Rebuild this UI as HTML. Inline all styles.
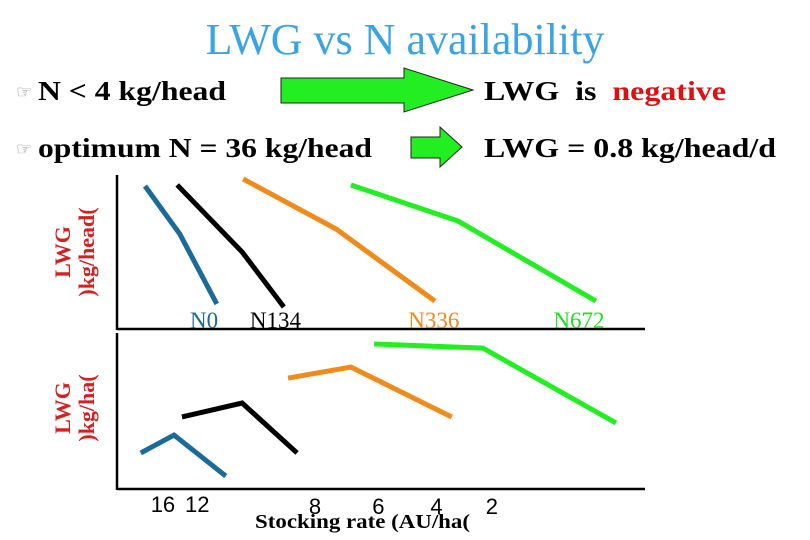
<!DOCTYPE html>
<html><head><meta charset="utf-8"><style>
body{margin:0;background:#fff}
svg{display:block}
.serif{font-family:"Liberation Serif",serif}
.sans{font-family:"Liberation Sans",sans-serif}
</style></head><body>
<svg id="chart" width="810" height="540" viewBox="0 0 810 540">
<text class="serif" x="405" y="54" text-anchor="middle" font-size="44" fill="#3aa3e3">LWG vs N availability</text>
<g class="serif">
<text x="16" y="98" font-size="18" fill="#888">☞</text>
<text x="38" y="100" font-size="27" font-weight="bold" fill="#000" textLength="188" lengthAdjust="spacingAndGlyphs">N &lt; 4 kg/head</text>
<polygon points="281,78 404,78 404,68 473,90 404,112 404,103 281,103" fill="#22ee22" stroke="#222" stroke-width="1"/>
<text x="484" y="100" font-size="27" font-weight="bold" fill="#000" textLength="242" lengthAdjust="spacingAndGlyphs">LWG&#160; is&#160; <tspan fill="#e01010">negative</tspan></text>
</g>
<g class="serif">
<text x="16" y="155" font-size="18" fill="#888">☞</text>
<text x="38" y="157" font-size="27" font-weight="bold" fill="#000" textLength="334" lengthAdjust="spacingAndGlyphs">optimum N = 36 kg/head</text>
<polygon points="411,137 440,137 440,127 462,147 440,167 440,158 411,158" fill="#22ee22" stroke="#222" stroke-width="1"/>
<text x="484" y="157" font-size="27" font-weight="bold" fill="#000" textLength="292" lengthAdjust="spacingAndGlyphs">LWG = 0.8 kg/head/d</text>
</g>
<g stroke="#000" stroke-width="2.5">
<line x1="117" y1="175" x2="117" y2="330"/>
<line x1="117" y1="329" x2="645" y2="329"/>
<line x1="117" y1="333" x2="117" y2="490"/>
<line x1="117" y1="489" x2="645" y2="489"/>
</g>
<g class="serif" font-size="22" font-weight="bold" fill="#d42020">
<text transform="translate(70,252) rotate(-90)" text-anchor="middle">LWG</text>
<text transform="translate(94,252) rotate(-90)" text-anchor="middle">)kg/head(</text>
<text transform="translate(70,408) rotate(-90)" text-anchor="middle">LWG</text>
<text transform="translate(94,408) rotate(-90)" text-anchor="middle">)kg/ha(</text>
</g>
<g id="ticks" class="sans" font-size="22" fill="#000"></g>
<text class="serif" x="255" y="528" font-size="20" font-weight="bold" fill="#000" textLength="215" lengthAdjust="spacingAndGlyphs">Stocking rate (AU/ha(</text>
<g id="series" class="serif"></g>
</svg>
<script>
const seriesNames = ["N0", "N134", "N336", "N672"];
const seriesColors = ["#1a6a9a", "#000000", "#f08a1a", "#22ee22"];
const headX = [[5.3, 11.9, 18.9], [11.4, 23.7, 31.6], [23.9, 41.5, 60.2], [44.3, 64.6, 90.7]];
const headY = [[92.8, 61.4, 15.7], [93.5, 49.7, 13.7], [97.4, 64.7, 17.6], [93.5, 69.9, 17.6]];
const haX = [[4.5, 10.8, 20.6], [12.3, 23.7, 34.1], [32.4, 44.3, 63.4], [48.7, 69.3, 94.5]];
const haY = [[23.6, 35.0, 8.9], [46.5, 55.4, 23.6], [71.3, 78.3, 46.5], [93.0, 90.4, 42.7]];
const labelX = [16.5, 30, 60, 87.5];
const tickLabels = ["16", "12", "8", "6", "4", "2"];
const tickX = [8.7, 15.2, 37.5, 49.5, 60.5, 71];

const NS = "http://www.w3.org/2000/svg";
const xs = v => 117 + v * 5.28;
const yTop = v => 328 - v * 1.53;
const yBot = v => 490 - v * 1.57;
const g = document.getElementById("series");
function line(xArr, yArr, ys, color, name) {
  const p = document.createElementNS(NS, "polyline");
  p.setAttribute("points", xArr.map((x, i) => xs(x) + "," + ys(yArr[i])).join(" "));
  p.setAttribute("fill", "none");
  p.setAttribute("stroke", color);
  p.setAttribute("stroke-width", "5");
  
  
  g.appendChild(p);
}
seriesNames.forEach((n, i) => {
  line(headX[i], headY[i], yTop, seriesColors[i], "line-head-" + n.toLowerCase());
  line(haX[i], haY[i], yBot, seriesColors[i], "line-ha-" + n.toLowerCase());
  const t = document.createElementNS(NS, "text");
  t.setAttribute("x", xs(labelX[i]));
  t.setAttribute("y", 328);
  t.setAttribute("text-anchor", "middle");
  t.setAttribute("font-size", "23");
  t.setAttribute("fill", seriesColors[i] === "#22ee22" ? "#22dd22" : seriesColors[i]);
  t.textContent = n;
  
  
  g.appendChild(t);
});
const tg = document.getElementById("ticks");
tickLabels.forEach((l, i) => {
  const t = document.createElementNS(NS, "text");
  t.setAttribute("x", xs(tickX[i]));
  t.setAttribute("y", i < 2 ? 512 : 514);
  t.setAttribute("text-anchor", "middle");
  t.textContent = l;
  
  
  tg.appendChild(t);
});
</script>
</body></html>
